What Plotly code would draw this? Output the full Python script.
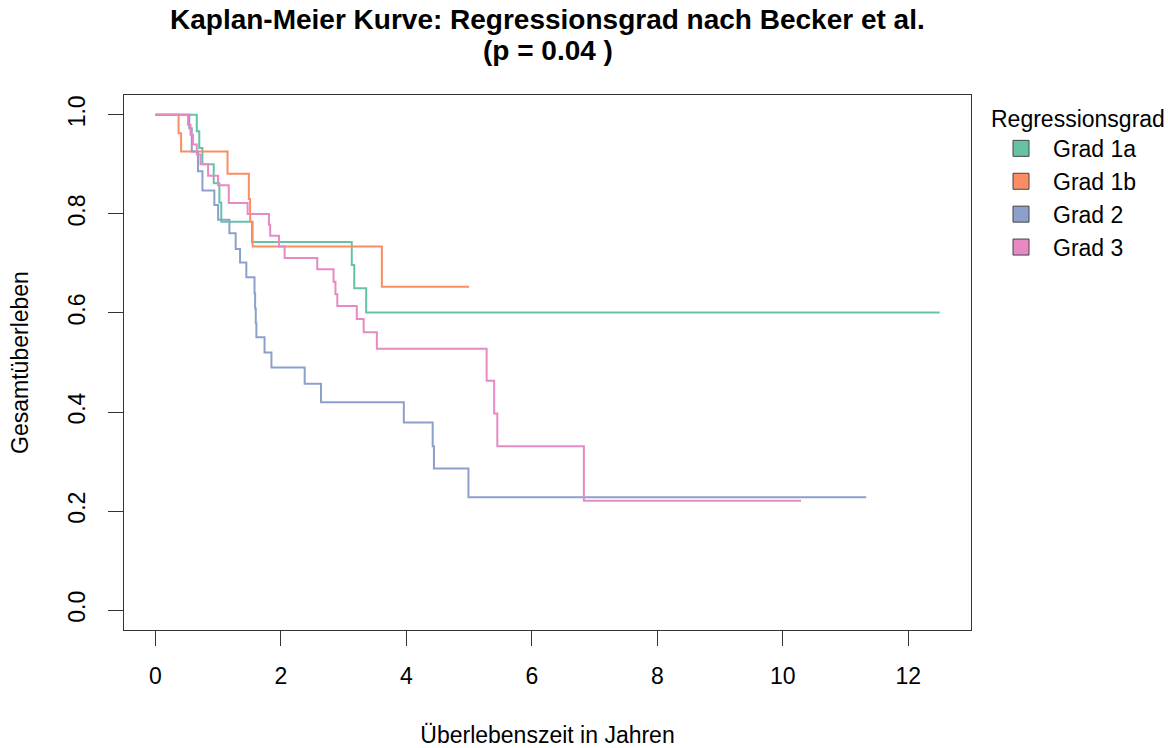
import plotly.graph_objects as go

# ---- data ----
groups = ["Grad 1a", "Grad 1b", "Grad 2", "Grad 3"]
colors = ["#66C2A5", "#FC8D62", "#8DA0CB", "#E78AC3"]

t_1a = [0.66, 0.70, 0.75, 0.93, 1.02, 1.05, 1.54, 3.13, 3.17, 3.36]
s_1a = [0.967, 0.933, 0.900, 0.862, 0.823, 0.784, 0.743, 0.697, 0.650, 0.601]
end_1a = 12.5

t_1b = [0.37, 0.41, 1.15, 1.49, 1.51, 1.55, 3.61]
s_1b = [0.963, 0.926, 0.881, 0.830, 0.784, 0.734, 0.653]
end_1b = 5.0

t_2 = [0.54, 0.58, 0.68, 0.75, 0.94, 1.00, 1.18, 1.28, 1.35, 1.45, 1.58, 1.59,
       1.60, 1.61, 1.74, 1.85, 2.38, 2.64, 3.96, 4.42, 4.44, 4.99]
s_2 = [0.973, 0.926, 0.886, 0.847, 0.818, 0.788, 0.761, 0.729, 0.702, 0.672, 0.640, 0.609,
       0.579, 0.551, 0.520, 0.490, 0.457, 0.420, 0.379, 0.331, 0.286, 0.228]
end_2 = 11.33

t_3 = [0.52, 0.56, 0.60, 0.66, 0.72, 0.84, 1.00, 1.17, 1.47, 1.81, 1.83, 1.97, 2.06,
       2.58, 2.84, 2.87, 2.90, 3.21, 3.32, 3.53, 5.28, 5.40, 5.45, 6.83]
s_3 = [0.980, 0.960, 0.940, 0.920, 0.900, 0.877, 0.858, 0.822, 0.800, 0.778, 0.756, 0.734, 0.711,
       0.688, 0.663, 0.638, 0.614, 0.588, 0.561, 0.528, 0.463, 0.397, 0.331, 0.221]
end_3 = 10.29

series = [(t_1a, s_1a, end_1a), (t_1b, s_1b, end_1b), (t_2, s_2, end_2), (t_3, s_3, end_3)]

x_ticks = [0, 2, 4, 6, 8, 10, 12]
y_ticks = [0.0, 0.2, 0.4, 0.6, 0.8, 1.0]

title_line1 = "Kaplan-Meier Kurve: Regressionsgrad nach Becker et al."
title_line2 = "(p = 0.04 )"

FONT = "Liberation Sans, Arial, Helvetica, sans-serif"

fig = go.Figure()
for (t, s, end), name, col in zip(series, groups, colors):
    xs = [0] + list(t) + [end]
    ys = [1.0] + list(s) + [s[-1]]
    fig.add_trace(go.Scatter(x=xs, y=ys, mode="lines", line=dict(color=col, width=2, shape="hv"),
                             name=name, showlegend=False, hoverinfo="skip"))

# legend proxies (filled boxes)
for name, col in zip(groups, colors):
    fig.add_trace(go.Scatter(x=[None], y=[None], mode="markers", name=name,
                             marker=dict(symbol="square", size=16, color=col,
                                         line=dict(color="#444444", width=1))))

L, R, T, B = 124, 197, 95, 118
H = 748 - T - B

fig.update_layout(
    width=1168, height=748,
    margin=dict(l=L, r=R, t=T, b=B, autoexpand=False),
    paper_bgcolor="white", plot_bgcolor="white",
    font=dict(family=FONT, size=23, color="black"),
    showlegend=True,
    legend=dict(title=dict(text="Regressionsgrad", font=dict(size=23)),
                font=dict(size=23), x=(989 - L) / 847, xanchor="left",
                y=(630 - 97) / H, yanchor="top", bgcolor="rgba(0,0,0,0)",
                tracegroupgap=0, itemwidth=54),
    annotations=[
        dict(text="<b>" + title_line1 + "</b>", xref="paper", yref="paper",
             x=0.5, y=(630 - 19) / H, xanchor="center", yanchor="middle",
             showarrow=False, font=dict(size=28, family=FONT)),
        dict(text="<b>" + title_line2 + "</b>", xref="paper", yref="paper",
             x=0.5, y=(630 - 51) / H, xanchor="center", yanchor="middle",
             showarrow=False, font=dict(size=28, family=FONT)),
    ],
)

fig.update_xaxes(range=[-0.5, 13.0], tickvals=x_ticks, ticktext=[str(v) for v in x_ticks],
                 ticks="outside", ticklen=15, tickcolor="#333", showgrid=False, zeroline=False,
                 showline=True, mirror=True, linecolor="#333", linewidth=1,
                 ticklabelstandoff=10,
                 title=dict(text="Überlebenszeit in Jahren", standoff=41, font=dict(size=23)))
fig.update_yaxes(range=[-0.04, 1.04], tickvals=y_ticks, ticktext=[f"{v:.1f}" for v in y_ticks],
                 tickangle=-90,
                 ticks="outside", ticklen=15, tickcolor="#333", showgrid=False, zeroline=False,
                 showline=True, mirror=True, linecolor="#333", linewidth=1,
                 ticklabelstandoff=14,
                 title=dict(text="Gesamtüberleben", standoff=28, font=dict(size=23)))

fig.write_html("out.html")
